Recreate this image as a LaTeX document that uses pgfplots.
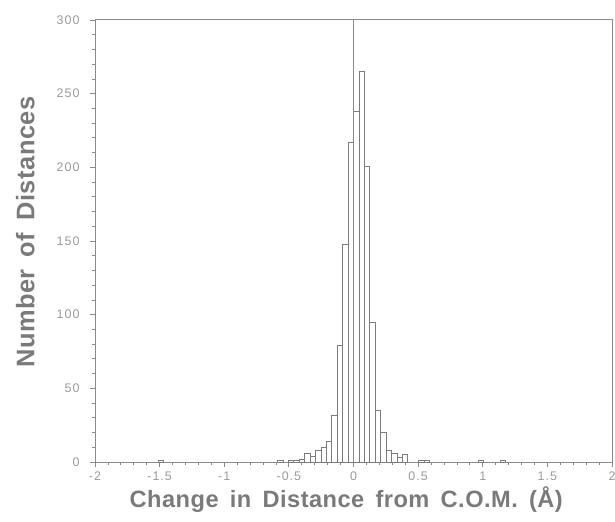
\documentclass[border=0pt]{standalone}
\usepackage{fontspec}
\setmainfont{Liberation Sans}
\newfontfamily\tickfont[LetterSpace=8]{Liberation Sans}
\newfontfamily\labfont[LetterSpace=2,WordSpace=1.6]{Liberation Sans}
\usepackage{pgfplots}
\pgfplotsset{compat=1.18}
\definecolor{labgray}{HTML}{7A7A7A}
\definecolor{tickgray}{HTML}{9A9A9A}
\definecolor{linegray}{HTML}{8A8A8A}
\definecolor{bargray}{HTML}{7C7C7C}
\begin{document}
\begin{tikzpicture}
\path[use as bounding box] (-95bp,-60bp) rectangle (520bp,462bp);
\begin{axis}[
  at={(0,0)}, anchor=south west,
  scale only axis, width=517bp, height=442bp,
  xmin=-2, xmax=2, ymin=0, ymax=300,
  xtick={-2,-1.5,-1,-0.5,0,0.5,1,1.5,2},
  xticklabels={-2,-1.5,-1,-0.5,0,0.5,1,1.5,2},
  ytick={0,50,100,150,200,250,300},
  yticklabels={0,50,100,150,200,250,300},
  minor x tick num=4, minor y tick num=4,
  tick align=outside, xtick pos=bottom, ytick pos=left,
  major tick length=5bp, minor tick length=3bp,
  every tick/.style={linegray, line width=0.8pt},
  axis line style={linegray, line width=1pt},
  tick label style={font=\tickfont\fontsize{12.5}{14}\selectfont, text=tickgray},
  xticklabel style={yshift=-1bp},
  yticklabel style={xshift=-7bp},
  xlabel={Change in Distance from C.O.M. (Å)},
  ylabel={Number of Distances},
  xlabel style={at={(axis description cs:0.486,-0.086)}, anchor=center, font=\labfont\fontsize{23.7}{27}\selectfont\bfseries, text=labgray},
  ylabel style={at={(axis description cs:-0.135,0.52)}, anchor=center, font=\labfont\fontsize{25.5}{29}\selectfont\bfseries, text=labgray},
]
\addplot[ybar, bar width=0.042, bar shift=0pt, draw=bargray, fill=white, line width=0.6pt] coordinates {
(-1.491,1) (-0.567,1) (-0.483,1) (-0.441,1) (-0.399,2) (-0.357,6) (-0.315,4)
(-0.273,8) (-0.231,10) (-0.189,14) (-0.147,32) (-0.105,79) (-0.063,148)
(-0.021,217) (0.021,238) (0.063,265) (0.105,201) (0.147,95) (0.189,35)
(0.231,20) (0.273,8) (0.315,6) (0.357,3) (0.399,5) (0.525,1) (0.567,1)
(0.987,1) (1.155,1)
};
\addplot[linegray, line width=0.6pt] coordinates {(0,0) (0,300)};
\end{axis}
\end{tikzpicture}
\end{document}
